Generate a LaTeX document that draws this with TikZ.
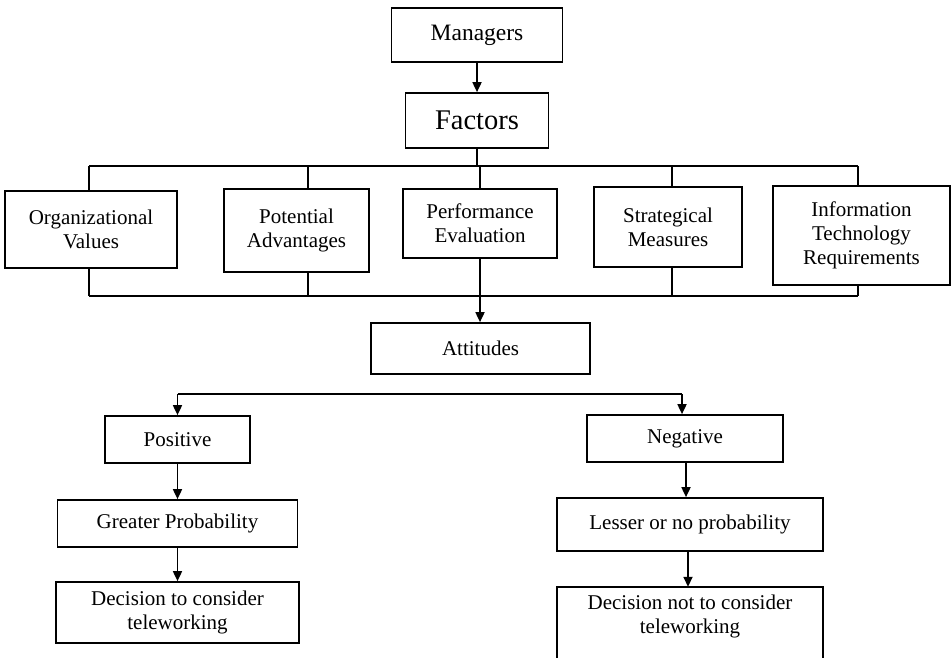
\documentclass[tikz,border=0pt]{standalone}
\usepackage{fontspec}
\setmainfont{Liberation Serif}
\usetikzlibrary{arrows.meta}
\tikzset{
  box/.style={draw, line width=1.7pt, inner sep=0pt, align=center, font=\fontsize{21}{24}\selectfont},
  plain/.style={inner sep=0pt, align=center, font=\fontsize{21}{24}\selectfont},
  wire/.style={line width=1.7pt},
  arr/.style={line width=1.7pt, -{Triangle[length=10pt,width=9pt]}}
}
\begin{document}
\begin{tikzpicture}[x=1pt,y=-1pt]
\useasboundingbox (0,0) rectangle (952,657);
\clip (0,0) rectangle (952,657);
\fill[white] (0,0) rectangle (952,657);
% top
\node[box, minimum width=171pt, minimum height=54pt, font=\fontsize{23.5}{26}\selectfont] (mgr) at (477,35) {Managers};
\node[box, minimum width=143pt, minimum height=55pt, font=\fontsize{28.5}{32}\selectfont] (fac) at (477,120.5) {Factors};
% factors row
\node[box, minimum width=172pt, minimum height=77pt] (org) at (91,229.5) {Organizational\\Values};
\node[box, minimum width=145pt, minimum height=83pt] (pot) at (296.5,230.5) {Potential\\Advantages};
\node[box, minimum width=154pt, minimum height=69pt] (perf) at (480,223.5) {Performance\\Evaluation};
\node[box, minimum width=148pt, minimum height=80pt] (strat) at (668,227) {Strategical\\Measures};
\node[box, minimum width=177pt, minimum height=99pt] (info) at (861.5,235.5) {Information\\Technology\\Requirements};
% attitudes
\node[box, minimum width=219pt, minimum height=51pt] (att) at (480.5,348.5) {Attitudes};
% left branch
\node[box, minimum width=145pt, minimum height=47pt] (pos) at (177.5,439.5) {Positive};
\node[box, minimum width=240pt, minimum height=47pt] (gp) at (177.5,523.5) {Greater Probability};
\node[box, minimum width=243pt, minimum height=61pt] (dec1) at (177.5,612.5) {Decision to consider\\teleworking};
% right branch
\node[box, minimum width=196pt, minimum height=47pt] (neg) at (685,438.5) {Negative};
\node[box, minimum width=266pt, minimum height=53pt] (less) at (690,524.5) {Lesser or no probability};
\node[plain, minimum width=266pt, minimum height=58pt] (dec2) at (690,616) {Decision not to consider\\teleworking};
\draw[wire] (dec2.north west) rectangle ([yshift=-40pt]dec2.south east);
% bus coordinates
\coordinate (tbL) at (89,166);
\coordinate (tbR) at (858,166);
\coordinate (bbL) at (89,296);
\coordinate (bbR) at (858,296);
\coordinate (vpot) at (308,166);
\coordinate (vstr) at (672,166);
\coordinate (brL) at (177.5,394);
\coordinate (brR) at (682,394);
% connectors
\draw[arr] (mgr.south) -- (fac.north);
\draw[wire] (fac.south) -- (fac.south |- tbL);
\draw[wire] (tbL) -- (tbR);
\draw[wire] (bbL) -- (bbR);
\draw[wire] (tbL) -- (tbL |- org.north);
\draw[wire] (org.south -| tbL) -- (bbL);
\draw[wire] (vpot) -- (vpot |- pot.north);
\draw[wire] (vpot |- pot.south) -- (vpot |- bbL);
\draw[wire] (perf.north |- tbL) -- (perf.north);
\draw[wire] (vstr) -- (vstr |- strat.north);
\draw[wire] (vstr |- strat.south) -- (vstr |- bbL);
\draw[wire] (tbR) -- (tbR |- info.north);
\draw[wire] (tbR |- info.south) -- (bbR);
\draw[arr] (perf.south) -- (perf.south |- att.north);
\draw[wire] (brL) -- (brR);
\draw[arr] (brL) -- (pos.north);
\draw[arr] (brR) -- (brR |- neg.north);
\draw[arr] (pos.south) -- (gp.north);
\draw[arr] (gp.south) -- (dec1.north);
\draw[arr] (neg.south -| 686,0) -- (686,0 |- less.north);
\draw[arr] (less.south -| 688,0) -- (688,0 |- dec2.north);
\end{tikzpicture}
\end{document}
